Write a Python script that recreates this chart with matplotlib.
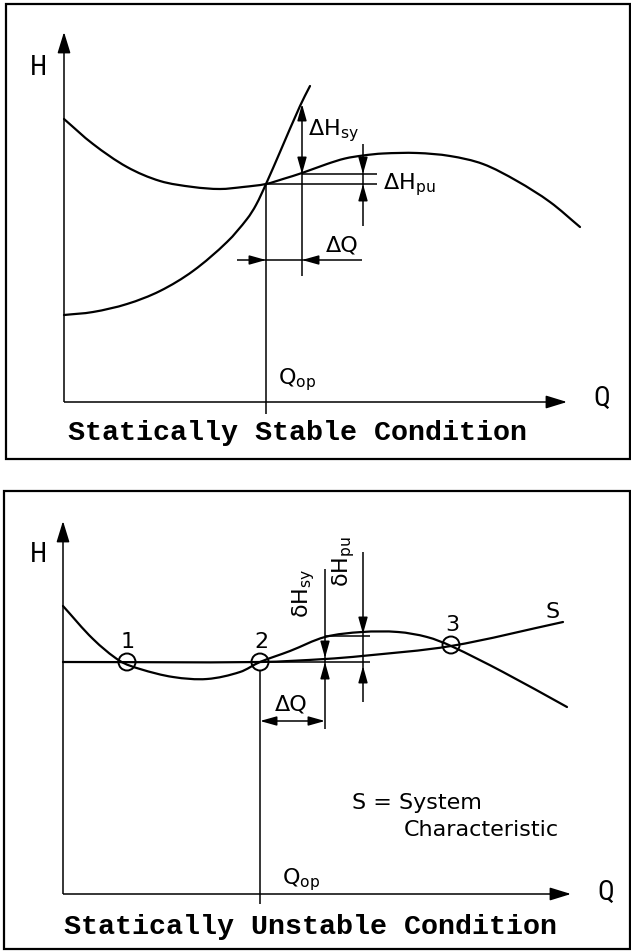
import numpy as np
import matplotlib
matplotlib.use("Agg")
import matplotlib.pyplot as plt
import matplotlib.font_manager as fm
from matplotlib.path import Path
from matplotlib.patches import PathPatch, FancyArrowPatch, Rectangle, Circle

# ---------------- data (panel units, origin at the axis corner) ----------------
# Top panel: statically stable
top_pump_Q = [0, 29, 63, 96, 129, 156, 179, 202, 219, 238, 263, 281, 299, 319, 353, 386, 419, 453, 486, 516]
top_pump_H = [283, 258, 235, 221, 215, 213, 215, 218, 223, 229, 238, 243.5, 246.5, 248.5, 249, 246, 238, 221, 200, 175]
top_sys_Q = [0, 29, 63, 96, 129, 163, 183, 192, 202, 216, 236, 246]
top_sys_H = [87, 90, 98, 111, 131, 160, 183, 197, 218, 250, 296, 316]
top_q_op, top_h_op = 202, 218          # operating point
top_q2 = 238                           # Q_op + dQ
top_h_pu2, top_h_sy2 = 228, 298        # pump / system head at Q_op + dQ

# Bottom panel: statically unstable
bot_pump_Q = [0, 30, 57, 77, 110, 144, 177, 197, 227, 262, 299, 335, 364, 388, 440, 504]
bot_pump_H = [288, 255, 233, 225, 217, 215, 222, 232, 243, 257, 262, 262, 257, 248, 222, 187]
bot_sys_Q = [0, 197, 262, 299, 388, 500]
bot_sys_H = [232, 232, 235, 238, 248, 272]
bot_pts_Q = [64, 197, 388]
bot_pts_H = [232, 232, 249]
bot_pts_lab = ["1", "2", "3"]
bot_q_op, bot_h_op = 197, 232
bot_q2 = 262
bot_q3 = 300
bot_h_pu2 = 258
bot_h_pu3 = 260

top_title = "Statically Stable Condition"
bot_title = "Statically Unstable Condition"

# ---------------- fonts ----------------
names = {f.name for f in fm.fontManager.ttflist}
LAB = "DejaVu Sans"
AXF = "Roboto Condensed" if "Roboto Condensed" in names else "DejaVu Sans"
MONO = "Liberation Mono" if "Liberation Mono" in names else "DejaVu Sans Mono"
plt.rcParams["font.family"] = [LAB]
plt.rcParams["mathtext.fontset"] = "custom"
for k in ("rm", "it", "sf", "bf"):
    plt.rcParams["mathtext." + k] = LAB

LW_CURVE = 1.6
LW_THIN = 1.1
LAB_FS = 16
AX_FS = 20 if AXF != "DejaVu Sans" else 17
TITLE_FS = 20.4


def smooth_path(xs, ys):
    """Cubic Bezier path through the read points (chord-length tangents)."""
    p = np.column_stack([xs, ys]).astype(float)
    n = len(p)
    d = np.hypot(*np.diff(p, axis=0).T)
    t = np.concatenate([[0], np.cumsum(d)])
    m = np.zeros_like(p)
    m[0] = (p[1] - p[0]) / (t[1] - t[0])
    m[-1] = (p[-1] - p[-2]) / (t[-1] - t[-2])
    for i in range(1, n - 1):
        m[i] = (p[i + 1] - p[i - 1]) / (t[i + 1] - t[i - 1])
    verts = [p[0]]
    codes = [Path.MOVETO]
    for i in range(n - 1):
        h = t[i + 1] - t[i]
        verts += [p[i] + m[i] * h / 3, p[i + 1] - m[i + 1] * h / 3, p[i + 1]]
        codes += [Path.CURVE4] * 3
    return Path(verts, codes)


def curve(ax, xs, ys, lw=LW_CURVE):
    ax.add_patch(PathPatch(smooth_path(xs, ys), fill=False, lw=lw, ec="black",
                           capstyle="round", joinstyle="round"))


def line(ax, x, y, lw=LW_THIN):
    ax.plot(x, y, color="black", lw=lw, solid_capstyle="butt", clip_on=False)


def head(ax, tip, base, hl=10, hw=2.8):
    a = FancyArrowPatch(base, tip, arrowstyle=f"-|>,head_length={hl},head_width={hw}",
                        mutation_scale=1, lw=LW_THIN, color="black",
                        shrinkA=0, shrinkB=0, clip_on=False)
    ax.add_patch(a)


def axes_arrows(ax, ytop, xright):
    line(ax, [0, 0], [0, ytop - 14], lw=LW_THIN)
    line(ax, [0, xright - 14], [0, 0], lw=LW_THIN)
    head(ax, (0, ytop), (0, ytop - 16), hl=13, hw=4)
    head(ax, (xright, 0), (xright - 16, 0), hl=13, hw=4)


fig = plt.figure(figsize=(6.31, 9.53), dpi=100)
fig.patch.set_facecolor("white")

# ================= top panel =================
ax = fig.add_axes([0, 477 / 953, 1, 476 / 953])
ax.set_xlim(-64, 567)
ax.set_ylim(-73, 403)
ax.axis("off")

ax.add_patch(Rectangle((-58, -57), 624, 455, fill=False, lw=1.6, ec="black", clip_on=False))
axes_arrows(ax, 370, 503)
ax.text(-26, 336, "H", fontsize=AX_FS, family=AXF, ha="center", va="center")
ax.text(538, 5, "Q", fontsize=AX_FS, family=AXF, ha="center", va="center")

curve(ax, top_pump_Q, top_pump_H)
curve(ax, top_sys_Q, top_sys_H)

# Q_op line
line(ax, [top_q_op, top_q_op], [top_h_op, -12])
ax.text(top_q_op + 12, 23, r"Q$_\mathrm{op}$", fontsize=LAB_FS, ha="left", va="center")

# dH_sy arrow
line(ax, [top_q2, top_q2], [126, top_h_sy2 - 12])
head(ax, (top_q2, top_h_sy2), (top_q2, top_h_sy2 - 14))
head(ax, (top_q2, top_h_pu2), (top_q2, top_h_pu2 + 14))
ax.text(top_q2 + 6, 272, r"ΔH$_\mathrm{sy}$", fontsize=LAB_FS, ha="left", va="center")

# horizontal reference lines
line(ax, [top_q2, 313], [top_h_pu2, top_h_pu2])
line(ax, [top_q_op, 313], [top_h_op, top_h_op])

# dH_pu
qpu = 299
line(ax, [qpu, qpu], [258, 176])
head(ax, (qpu, top_h_pu2), (qpu, top_h_pu2 + 16))
head(ax, (qpu, top_h_op), (qpu, top_h_op - 16))
ax.text(319, 218, r"ΔH$_\mathrm{pu}$", fontsize=LAB_FS, ha="left", va="center")

# dQ
hq = 142
line(ax, [173, 298], [hq, hq])
head(ax, (top_q_op, hq), (top_q_op - 16, hq))
head(ax, (top_q2, hq), (top_q2 + 16, hq))
ax.text(278, 157, "ΔQ", fontsize=LAB_FS, ha="center", va="center")

ax.text(233, -30, top_title, fontsize=TITLE_FS, family=MONO, weight="bold",
        ha="center", va="center")

# ================= bottom panel =================
bx = fig.add_axes([0, 0, 1, 477 / 953])
bx.set_xlim(-63, 568)
bx.set_ylim(-58, 419)
bx.axis("off")

bx.add_patch(Rectangle((-59, -55), 626, 458, fill=False, lw=1.6, ec="black", clip_on=False))
axes_arrows(bx, 373, 508)
bx.text(-25, 340, "H", fontsize=AX_FS, family=AXF, ha="center", va="center")
bx.text(543, 3, "Q", fontsize=AX_FS, family=AXF, ha="center", va="center")

curve(bx, bot_pump_Q, bot_pump_H)
curve(bx, bot_sys_Q, bot_sys_H)
bx.text(490, 283, "S", fontsize=LAB_FS, ha="center", va="center")

for q, h, lab in zip(bot_pts_Q, bot_pts_H, bot_pts_lab):
    bx.add_patch(Circle((q, h), 8.5, fill=False, lw=1.4, ec="black"))
    bx.text(q + 1, h + 21, lab, fontsize=LAB_FS, ha="center", va="center")

# Q_op
line(bx, [bot_q_op, bot_q_op], [bot_h_op - 8.5, -10])
bx.text(bot_q_op + 22, 15, r"Q$_\mathrm{op}$", fontsize=LAB_FS, ha="left", va="center")

# dQ
hq2 = 173
bx.add_patch(FancyArrowPatch((bot_q_op, hq2), (bot_q2, hq2),
                             arrowstyle="<|-|>,head_length=10,head_width=2.8",
                             mutation_scale=1, lw=LW_THIN, color="black",
                             shrinkA=0, shrinkB=0))
bx.text(228, 190, "ΔQ", fontsize=LAB_FS, ha="center", va="center")

# reference lines
line(bx, [bot_q2, 307], [bot_h_pu2, bot_h_pu2])
line(bx, [bot_q_op + 8, 307], [bot_h_op, bot_h_op])

# delta H_sy
line(bx, [bot_q2, bot_q2], [325, 165])
head(bx, (bot_q2, 236), (bot_q2, 252))
head(bx, (bot_q2, bot_h_op), (bot_q2, bot_h_op - 15))
bx.text(241, 302, r"δH$_\mathrm{sy}$", fontsize=LAB_FS, rotation=90, ha="center", va="center")

# delta H_pu
line(bx, [bot_q3, bot_q3], [342, 192])
head(bx, (bot_q3, bot_h_pu3), (bot_q3, bot_h_pu3 + 14))
head(bx, (bot_q3, 228), (bot_q3, 214))
bx.text(281, 333, r"δH$_\mathrm{pu}$", fontsize=LAB_FS, rotation=90, ha="center", va="center")

bx.text(289, 92, "S = System", fontsize=LAB_FS, ha="left", va="center")
bx.text(341, 65, "Characteristic", fontsize=LAB_FS, ha="left", va="center")

bx.text(247, -32, bot_title, fontsize=TITLE_FS, family=MONO, weight="bold",
        ha="center", va="center")

fig.savefig("out.png", dpi=100, facecolor="white")
